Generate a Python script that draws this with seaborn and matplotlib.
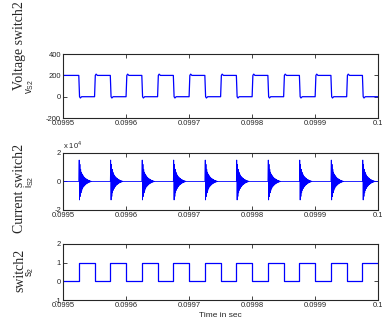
import numpy as np
import pandas as pd
import matplotlib
matplotlib.use("Agg")
import matplotlib.pyplot as plt
import seaborn as sns

# switching instants (s)
rise_times = [0.099525, 0.099575, 0.099625, 0.099675, 0.099725,
              0.099775, 0.099825, 0.099875, 0.099925, 0.099975]
fall_times = [0.09955, 0.0996, 0.09965, 0.0997, 0.09975,
              0.0998, 0.09985, 0.0999, 0.09995]
t_start, t_end = 0.0995, 0.1

# voltage levels and small edge blips (V), offsets in microseconds
v_high, v_low = 200, 0
v_fall_us = [0, 1.2, 2.5, 4.5]
v_fall_val = [200, 0, -12, 0]
v_rise_us = [0, 1.2, 2.5, 4.5]
v_rise_val = [0, 200, 212, 200]

# ringing of the switch current after turn-on (x 1e4 A), one sample per 0.6 us
spike_step_us = 0.6
spike_vals = [0, 1.5, -1.3, 1.2, -1.05, 0.85, -0.8, 0.65, -0.62, 0.52, -0.5,
              0.42, -0.4, 0.34, -0.33, 0.28, -0.27, 0.23, -0.22, 0.19, -0.18,
              0.15, -0.14, 0.12, -0.11, 0.09, -0.08, 0.07, -0.06, 0.05, -0.04,
              0.03, -0.02, 0.01, 0]

# switch state: 0 at start, 1 after each rise, 0 after each fall
edges = sorted(rise_times + fall_times)
s_times = [t_start] + edges + [t_end]
s_vals = [0] + [1 if t in rise_times else 0 for t in edges] + [1]

# voltage v_S2 = 200 when switch is off
vt, vv = [t_start], [v_high]
for t in edges:
    if t in rise_times:
        vt += [t + d * 1e-6 for d in v_fall_us]
        vv += v_fall_val
    else:
        vt += [t + d * 1e-6 for d in v_rise_us]
        vv += v_rise_val
vt.append(t_end)
vv.append(v_low)

# current i_S2
it, iv = [t_start], [0]
for t in rise_times:
    it += [t + k * spike_step_us * 1e-6 for k in range(len(spike_vals))]
    iv += spike_vals
it.append(t_end)
iv.append(0)

df_v = pd.DataFrame({"t": vt, "v": vv})
df_i = pd.DataFrame({"t": it, "i": iv})
df_s = pd.DataFrame({"t": s_times, "s": s_vals})

sns.set_style("ticks")
plt.rcParams["font.family"] = ["Liberation Sans", "DejaVu Sans"]

fig = plt.figure(figsize=(3.82, 3.26), dpi=100)
ax1 = fig.add_axes([0.165, 0.638, 0.825, 0.196])
ax2 = fig.add_axes([0.165, 0.356, 0.825, 0.175])
ax3 = fig.add_axes([0.165, 0.079, 0.825, 0.173])

blue = (0, 0, 1)
sns.lineplot(data=df_v, x="t", y="v", ax=ax1, color=blue, linewidth=0.9,
             estimator=None, sort=False)
sns.lineplot(data=df_i, x="t", y="i", ax=ax2, color=blue, linewidth=0.6,
             estimator=None, sort=False)
sns.lineplot(data=df_s, x="t", y="s", ax=ax3, color=blue, linewidth=0.9,
             estimator=None, sort=False, drawstyle="steps-post")

xticks = [0.0995, 0.0996, 0.0997, 0.0998, 0.0999, 0.1]
xlabels = ["0.0995", "0.0996", "0.0997", "0.0998", "0.0999", "0.1"]

for ax, lim, ticks in [(ax1, (-200, 400), [-200, 0, 200, 400]),
                       (ax2, (-2, 2), [-2, 0, 2]),
                       (ax3, (-1, 2), [-1, 0, 1, 2])]:
    ax.set_xlim(t_start, t_end)
    ax.set_ylim(*lim)
    ax.set_yticks(ticks)
    ax.set_yticklabels([str(v) for v in ticks])
    ax.set_xticks(xticks)
    ax.set_xticklabels(xlabels)
    ax.tick_params(direction="in", top=True, right=True, length=3, width=0.6,
                   labelsize=5.5, pad=1.5)
    for sp in ax.spines.values():
        sp.set_linewidth(0.8)
        sp.set_visible(True)
    ax.set_xlabel("")

ax1.set_ylabel(r"v$_{\mathregular{S2}}$", fontsize=7)
ax2.set_ylabel(r"i$_{\mathregular{S2}}$", fontsize=7)
ax3.set_ylabel(r"s$_{\mathregular{2}}$", fontsize=7)
for ax in (ax1, ax2, ax3):
    ax.yaxis.set_label_coords(-0.085, 0.5)

ax2.text(0.0, 1.03, r"x 10$^{\mathregular{4}}$", transform=ax2.transAxes,
         fontsize=5.5, ha="left", va="bottom")
ax3.set_xlabel("Time in sec", fontsize=6, labelpad=2)

serif = ["Liberation Serif", "DejaVu Serif"]
fig.text(0.052, 0.86, "Voltage switch2", rotation=90, ha="center", va="center",
         fontsize=10, family=serif)
fig.text(0.052, 0.423, "Current switch2", rotation=90, ha="center", va="center",
         fontsize=10, family=serif)
fig.text(0.052, 0.172, "switch2", rotation=90, ha="center", va="center",
         fontsize=10, family=serif)

fig.savefig("out.png", dpi=100)
